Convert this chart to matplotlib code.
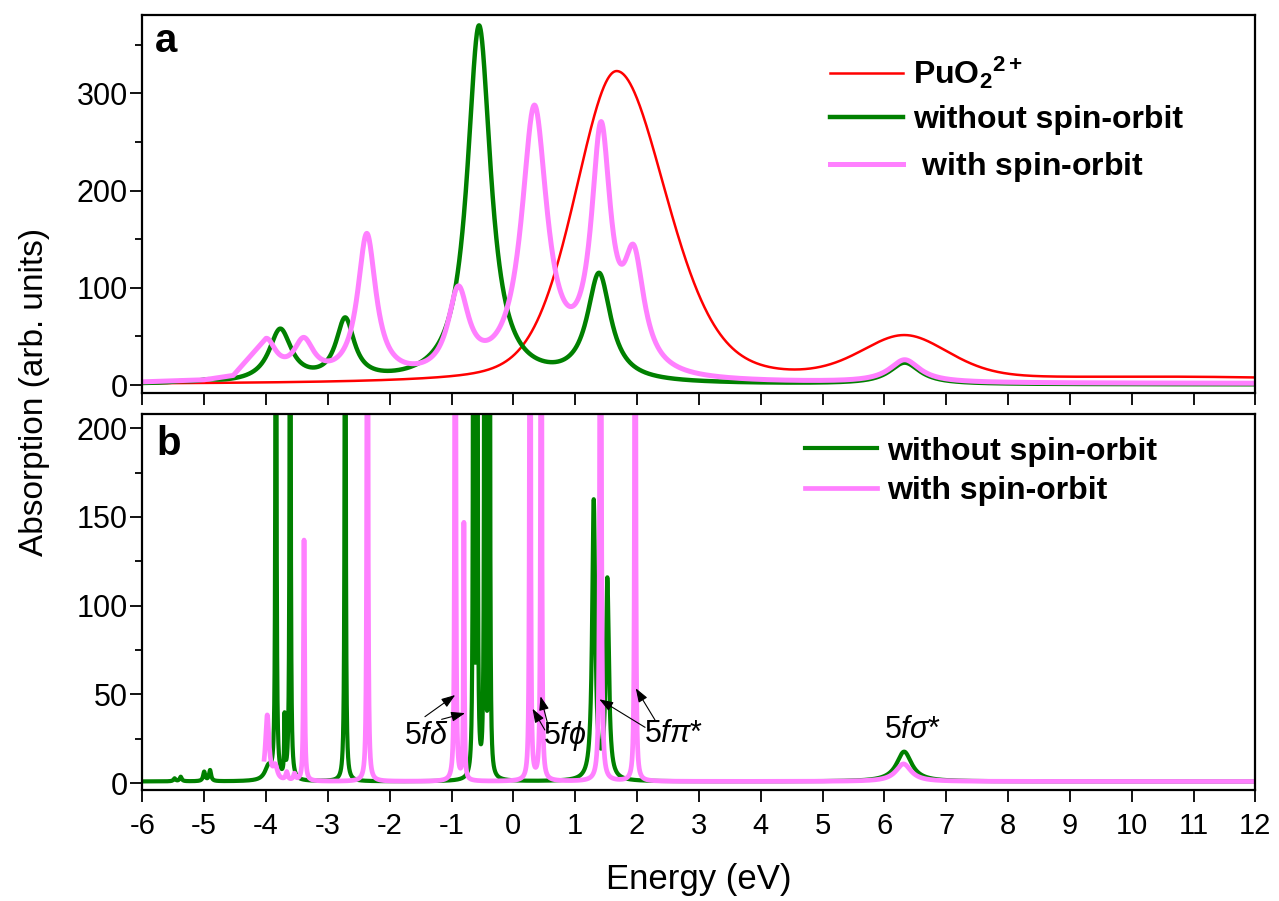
import numpy as np
import matplotlib
matplotlib.use("Agg")
import matplotlib.pyplot as plt
from matplotlib.ticker import MultipleLocator

plt.rcParams["font.family"] = ["Liberation Sans", "DejaVu Sans"]
plt.rcParams["mathtext.fontset"] = "custom"
plt.rcParams["mathtext.rm"] = "Liberation Sans"
plt.rcParams["mathtext.it"] = "Liberation Sans:italic"
plt.rcParams["mathtext.bf"] = "Liberation Sans:bold"

# ---- panel a: broadened spectra (peak centre eV, peak value, half width) ----
top_red_pos = [1.67, 6.33, 11.0]
top_red_height = [323, 51.4, 8.5]
top_red_hwl = [0.80, 0.85, 4.0]
top_red_hwr = [0.95, 0.85, 4.0]
top_red_eta = [0.3, 0.3, 1.0]
top_red_base = 0.3

top_green_pos = [-5.4, -4.95, -3.77, -2.72, -0.555, 1.386, 6.33]
top_green_height = [4, 6, 58, 69.6, 370, 115.5, 23]
top_green_hw = [0.15, 0.15, 0.22, 0.18, 0.23, 0.23, 0.3]
top_green_base = 0.5

top_pink_pos = [-4.0, -3.39, -2.37, -0.89, 0.34, 1.418, 1.95, 6.33]
top_pink_height = [48, 49, 156, 102, 288, 271, 144, 26]
top_pink_hw = [0.2, 0.2, 0.18, 0.2, 0.25, 0.19, 0.2, 0.3]
top_pink_base = 1.5
top_pink_sparse_x = [-6.0, -5.0, -4.53]   # coarse points before the first peak
top_pink_start = -4.0

# ---- panel b: narrow lines ----
bot_green_pos = [-5.48, -5.38, -5.00, -4.905, -3.96, -3.84, -3.70, -3.61, -2.72,
                 -0.645, -0.585, -0.465, -0.385, 1.30, 1.52, 6.32]
bot_green_height = [2.8, 3.7, 6.6, 7.5, 11, 500, 40, 500, 500,
                    500, 500, 500, 500, 160, 116, 17.8]
bot_green_hw = [0.02, 0.02, 0.02, 0.02, 0.07, 0.008, 0.008, 0.008, 0.008,
                0.008, 0.008, 0.008, 0.008, 0.03, 0.03, 0.15]
bot_green_base = 1.0

bot_pink_pos = [-3.98, -3.85, -3.665, -3.54, -3.385, -2.36, -0.94, -0.80,
                0.27, 0.45, 1.41, 1.97, 6.31]
bot_pink_height = [38.5, 11, 6.6, 5.7, 137, 500, 500, 147,
                   500, 500, 600, 500, 10.9]
bot_pink_hw = [0.035, 0.04, 0.02, 0.02, 0.01, 0.008, 0.008, 0.008,
               0.008, 0.008, 0.01, 0.008, 0.15]
bot_pink_base = 1.0
bot_pink_start = -4.03

xticks = list(range(-6, 13))


def shape(x, c, wl, wr, eta):
    w = np.where(x < c, wl, wr)
    u = (x - c) / w
    return eta / (1.0 + u ** 2) + (1.0 - eta) * np.exp(-np.log(2.0) * u ** 2)


def spectrum(x, pos, height, hwl, hwr=None, eta=None, base=0.0):
    # amplitudes chosen so the summed curve passes through the read peak values
    pos = np.asarray(pos, float)
    hwl = np.asarray(hwl, float)
    hwr = hwl if hwr is None else np.asarray(hwr, float)
    eta = np.ones_like(pos) if eta is None else np.asarray(eta, float)
    M = shape(pos[:, None], pos[None, :], hwl[None, :], hwr[None, :], eta[None, :])
    amp = np.linalg.solve(M, np.asarray(height, float) - base)
    x = np.asarray(x, float)
    y = shape(x[:, None], pos[None, :], hwl[None, :], hwr[None, :], eta[None, :]) @ amp
    return base + y


RED = "#FF0000"
GREEN = "#008000"
PINK = "#FF80FF"

x_top = np.linspace(-6, 12, 3601)
x_pink_top = np.concatenate([top_pink_sparse_x, np.linspace(top_pink_start, 12, 3201)])
x_bot = np.linspace(-6, 12, 18001)
x_pink_bot = x_bot[x_bot >= bot_pink_start]

red_top = spectrum(x_top, top_red_pos, top_red_height, top_red_hwl, top_red_hwr,
                   top_red_eta, top_red_base)
green_top = spectrum(x_top, top_green_pos, top_green_height, top_green_hw,
                     base=top_green_base)
pink_top = spectrum(x_pink_top, top_pink_pos, top_pink_height, top_pink_hw,
                    base=top_pink_base)
green_bot = spectrum(x_bot, bot_green_pos, bot_green_height, bot_green_hw,
                     base=bot_green_base)
pink_bot = spectrum(x_pink_bot, bot_pink_pos, bot_pink_height, bot_pink_hw,
                    base=bot_pink_base)

fig = plt.figure(figsize=(12.79, 9.01), dpi=100)
ax1 = fig.add_axes([0.1113, 0.5635, 0.8702, 0.4199])
ax2 = fig.add_axes([0.1113, 0.1232, 0.8702, 0.4173])

ax1.plot(x_top, red_top, color=RED, lw=1.8, label=r"PuO$_\mathbf{2}$$^\mathbf{2+}$")
ax1.plot(x_top, green_top, color=GREEN, lw=3.2, label="without spin-orbit")
ax1.plot(x_pink_top, pink_top, color=PINK, lw=3.6, label=r" with spin-orbi$\mathregular{t}$")

ax2.plot(x_bot, green_bot, color=GREEN, lw=3.0, label="without spin-orbit")
ax2.plot(x_pink_bot, pink_bot, color=PINK, lw=3.4, label="with spin-orbit")

ax1.set_ylim(-8.5, 380.7)
ax2.set_ylim(-3.8, 208)
for ax in (ax1, ax2):
    ax.set_xlim(-6, 12)
    ax.set_xticks(xticks)
    for s in ax.spines.values():
        s.set_linewidth(1.6)
    ax.tick_params(axis="both", which="major", direction="out", length=8.5, width=1.3,
                   labelsize=22, pad=2)
    ax.tick_params(axis="y", which="minor", direction="out", length=5, width=1.3)
    ax.tick_params(axis="x", pad=7, labelsize=21)

ax1.yaxis.set_major_locator(MultipleLocator(100))
ax1.yaxis.set_minor_locator(MultipleLocator(50))
ax1.tick_params(axis="x", labelbottom=False)
ax2.yaxis.set_major_locator(MultipleLocator(50))
ax2.yaxis.set_minor_locator(MultipleLocator(25))
ax2.set_xticklabels([str(t) for t in xticks])

ax1.legend(loc="upper left", bbox_to_anchor=(0.618, 0.895), frameon=False,
           prop={"weight": "bold", "size": 23}, handlelength=2.28,
           handletextpad=0.31, labelspacing=0.45, borderpad=0, borderaxespad=0)
ax2.legend(loc="upper left", bbox_to_anchor=(0.595, 0.94), frameon=False,
           prop={"weight": "bold", "size": 23}, handlelength=2.28,
           handletextpad=0.31, labelspacing=0.31, borderpad=0, borderaxespad=0)

ax1.text(0.0114, 0.902, "a", transform=ax1.transAxes, fontsize=29,
         fontweight="bold", va="baseline")
ax2.text(0.0125, 0.891, "b", transform=ax2.transAxes, fontsize=29,
         fontweight="bold", va="baseline")

arrow = dict(arrowstyle="-|>,head_length=0.7,head_width=0.25", color="k", lw=0.8,
             shrinkA=0, shrinkB=0, mutation_scale=12)
ax2.text(-1.40, 26.7, r"5$f\delta$", fontsize=22, ha="center", va="center")
ax2.annotate("", xy=(-0.94, 49.7), xytext=(-1.43, 37.5), arrowprops=arrow)
ax2.annotate("", xy=(-0.78, 39.5), xytext=(-1.16, 36), arrowprops=arrow)
ax2.text(0.835, 26.7, r"5$f\phi$", fontsize=22, ha="center", va="center")
ax2.annotate("", xy=(0.31, 42), xytext=(0.51, 30), arrowprops=arrow)
ax2.annotate("", xy=(0.44, 49), xytext=(0.57, 31.5), arrowprops=arrow)
ax2.text(2.60, 28, r"5$f\pi$*", fontsize=22, ha="center", va="center")
ax2.annotate("", xy=(1.39, 47.3), xytext=(2.13, 31.5), arrowprops=arrow)
ax2.annotate("", xy=(1.98, 53.5), xytext=(2.29, 35.7), arrowprops=arrow)
ax2.text(6.46, 30, r"5$f\sigma$*", fontsize=22, ha="center", va="center")

fig.text(0.027, 0.565, "Absorption (arb. units)", rotation=90, fontsize=24,
         ha="center", va="center")
fig.text(0.546, 0.024, "Energy (eV)", fontsize=25, ha="center", va="center")

fig.savefig("out.png", dpi=100)
